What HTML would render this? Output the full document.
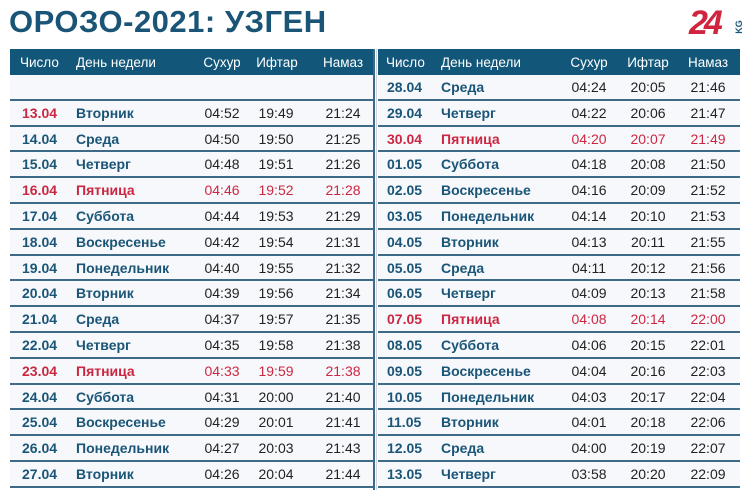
<!DOCTYPE html>
<html><head><meta charset="utf-8"><style>
body{margin:0;width:750px;height:500px;background:#fff;position:relative;overflow:hidden;font-family:"Liberation Sans",sans-serif}
.t{position:absolute;left:9px;top:4px;font-size:31px;font-weight:bold;color:#1a5577;letter-spacing:0.5px}
.logo{position:absolute;left:689px;top:4px;font-size:34px;font-weight:bold;color:#d1243f;font-style:italic;letter-spacing:-4px}
.kg{position:absolute;left:732px;top:22px;font-size:9px;font-weight:bold;color:#1a5577;transform:rotate(-90deg)}
.hd{position:absolute;top:49px;height:26px;background:#125779;color:#fff;font-size:13.5px}
.r{position:absolute;height:24px;background:#f6f8fb;border-bottom:2px solid #3e6a87;font-size:14px}
.c{position:absolute;top:0;line-height:25px;white-space:nowrap}
.hd .c{line-height:27px}
.b{font-weight:bold;color:#1a5577}
.n{color:#222}
.red,.red .b,.red .n{color:#cc2742}
.ctr{transform:translateX(-50%)}
.v{position:absolute;top:49px;height:441px;width:2px;background:#3e6a87}
</style></head><body>
<div class="t">ОРОЗО-2021: УЗГЕН</div>
<div class="logo">24</div><div class="kg">KG</div>
<div class="hd" style="left:10px;width:363px">
<div class="c" style="left:10px">Число</div><div class="c" style="left:66px">День недели</div>
<div class="c ctr" style="left:212px">Сухур</div><div class="c ctr" style="left:267px">Ифтар</div><div class="c ctr" style="left:333px">Намаз</div></div>
<div class="hd" style="left:378px;width:362px">
<div class="c" style="left:8px">Число</div><div class="c" style="left:63px">День недели</div>
<div class="c ctr" style="left:211px">Сухур</div><div class="c ctr" style="left:270px">Ифтар</div><div class="c ctr" style="left:330px">Намаз</div></div>
<div class="v" style="left:373px"></div><div class="v" style="left:376px;width:1px;background:#c9d3dc"></div>
<div id="L"></div><div id="R"></div>
<script>
const L=[null,["13.04","Вторник","04:52","19:49","21:24",2],["14.04","Среда","04:50","19:50","21:25"],["15.04","Четверг","04:48","19:51","21:26"],["16.04","Пятница","04:46","19:52","21:28",1],["17.04","Суббота","04:44","19:53","21:29"],["18.04","Воскресенье","04:42","19:54","21:31"],["19.04","Понедельник","04:40","19:55","21:32"],["20.04","Вторник","04:39","19:56","21:34"],["21.04","Среда","04:37","19:57","21:35"],["22.04","Четверг","04:35","19:58","21:38"],["23.04","Пятница","04:33","19:59","21:38",1],["24.04","Суббота","04:31","20:00","21:40"],["25.04","Воскресенье","04:29","20:01","21:41"],["26.04","Понедельник","04:27","20:03","21:43"],["27.04","Вторник","04:26","20:04","21:44"]];
const R=[["28.04","Среда","04:24","20:05","21:46"],["29.04","Четверг","04:22","20:06","21:47"],["30.04","Пятница","04:20","20:07","21:49",1],["01.05","Суббота","04:18","20:08","21:50"],["02.05","Воскресенье","04:16","20:09","21:52"],["03.05","Понедельник","04:14","20:10","21:53"],["04.05","Вторник","04:13","20:11","21:55"],["05.05","Среда","04:11","20:12","21:56"],["06.05","Четверг","04:09","20:13","21:58"],["07.05","Пятница","04:08","20:14","22:00",1],["08.05","Суббота","04:06","20:15","22:01"],["09.05","Воскресенье","04:04","20:16","22:03"],["10.05","Понедельник","04:03","20:17","22:04"],["11.05","Вторник","04:01","20:18","22:06"],["12.05","Среда","04:00","20:19","22:07"],["13.05","Четверг","03:58","20:20","22:09"]];
function build(data,left,width,xs){let h="";data.forEach((d,i)=>{const top=75+i*25.8;h+=`<div class="r ${d&&d[5]==1?'red':''}" style="left:${left}px;width:${width}px;top:${top}px;height:${23.8}px">`;
if(d){h+=`<div class="c b" style="left:${xs[0]}px;${d[5]==2?'color:#cc2742':''}">${d[0]}</div><div class="c b" style="left:${xs[1]}px">${d[1]}</div>`;
for(let k=2;k<5;k++)h+=`<div class="c n ctr" style="left:${xs[k]}px">${d[k]}</div>`;}
h+="</div>";});return h;}
document.getElementById("L").innerHTML=build(L,10,363,[12,66,212,266,333]);
document.getElementById("R").innerHTML=build(R,378,362,[9,63,211,270,330]);
</script>
</body></html>
